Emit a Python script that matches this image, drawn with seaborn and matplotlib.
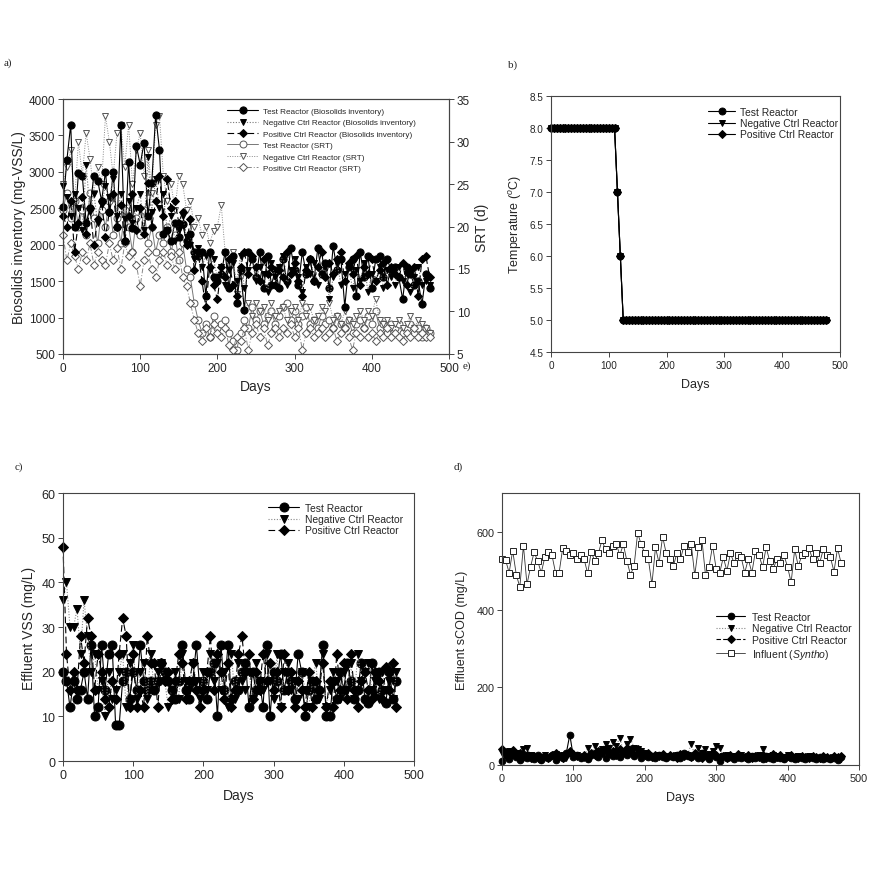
import matplotlib
matplotlib.use("Agg")
import matplotlib.pyplot as plt
import seaborn as sns

# sampling days (every 5 d)
days = [0, 5, 10, 15, 20, 25, 30, 35, 40, 45,
        50, 55, 60, 65, 70, 75, 80, 85, 90, 95,
        100, 105, 110, 115, 120, 125, 130, 135, 140, 145,
        150, 155, 160, 165, 170, 175, 180, 185, 190, 195,
        200, 205, 210, 215, 220, 225, 230, 235, 240, 245,
        250, 255, 260, 265, 270, 275, 280, 285, 290, 295,
        300, 305, 310, 315, 320, 325, 330, 335, 340, 345,
        350, 355, 360, 365, 370, 375, 380, 385, 390, 395,
        400, 405, 410, 415, 420, 425, 430, 435, 440, 445,
        450, 455, 460, 465, 470, 475]

# a) biosolids inventory (mg-VSS/L)
bio_test = [2520, 3160, 3650, 2250, 2980, 2950, 2300, 2500, 2950, 2880,
            2600, 3000, 2450, 3000, 2250, 3650, 2050, 3140, 2230, 3360,
            3100, 3400, 2400, 2850, 3780, 3300, 2150, 2200, 2050, 2300,
            2100, 2280, 2050, 2150, 1900, 1850, 1900, 1300, 1900, 1550,
            1500, 1600, 1900, 1400, 1850, 1200, 1650, 1100, 1900, 1800,
            1550, 1900, 1400, 1850, 1450, 1650, 1400, 1800, 1500, 1950,
            1650, 1450, 1900, 1600, 1800, 1500, 1950, 1600, 1750, 1400,
            1980, 1650, 1800, 1150, 1700, 1800, 1300, 1900, 1550, 1850,
            1400, 1800, 1850, 1550, 1800, 1650, 1700, 1550, 1250, 1700,
            1600, 1450, 1500, 1180, 1600, 1400]
bio_neg = [2800, 2650, 2400, 2700, 2500, 2200, 3100, 2450, 2700, 2300,
           2550, 2800, 2650, 2900, 2400, 2700, 2350, 2600, 2300, 2500,
           2700, 2200, 3200, 2450, 2900, 2500, 2700, 2200, 2400, 2050,
           2200, 2400, 2100, 2000, 1800, 1950, 1700, 1850, 1650, 1800,
           1550, 1700, 1450, 1650, 1750, 1500, 1850, 1400, 1650, 1800,
           1500, 1700, 1600, 1350, 1750, 1550, 1700, 1850, 1450, 1650,
           1800, 1550, 1350, 1700, 1600, 1750, 1450, 1600, 1700, 1250,
           1550, 1750, 1450, 1600, 1700, 1400, 1650, 1500, 1750, 1350,
           1600, 1500, 1700, 1400, 1650, 1550, 1450, 1700, 1500, 1600,
           1350, 1550, 1700, 1450, 1500, 1450]
bio_pos = [2400, 2250, 2600, 1900, 2300, 2650, 2150, 2500, 2000, 2350,
           2600, 2100, 2450, 2700, 2250, 2550, 2050, 2400, 2700, 2200,
           2500, 2150, 2850, 2250, 2600, 2950, 2400, 2900, 2500, 2600,
           2300, 2450, 2000, 2350, 1650, 1900, 1500, 1150, 1700, 1450,
           1250, 1700, 1550, 1800, 1450, 1300, 1700, 1900, 1600, 1850,
           1700, 1500, 1800, 1600, 1700, 1450, 1650, 1550, 1900, 1600,
           1750, 1500, 1300, 1650, 1800, 1500, 1700, 1900, 1550, 1750,
           1600, 1800, 1900, 1500, 1750, 1600, 1850, 1450, 1700, 1600,
           1800, 1500, 1650, 1750, 1450, 1700, 1600, 1550, 1750, 1450,
           1650, 1700, 1300, 1800, 1850, 1550]

# a) SRT (d)
srt_test = [22, 24, 21, 23, 20, 22, 19, 24, 21, 18,
            22, 20, 23, 19, 21, 18, 22, 20, 17, 21,
            19, 22, 18, 20, 17, 19, 18, 20, 17, 19,
            16, 18, 15, 14, 11, 9, 7.5, 8.5, 7, 9.5,
            8, 8.5, 9, 7.5, 6.5, 5.5, 7.5, 9, 8, 10.5,
            9, 10, 8.5, 9.5, 10, 8.5, 9.5, 10.5, 11, 9,
            10, 8.5, 9.5, 10.5, 8.5, 9, 8, 9.5, 8.5, 9,
            8, 9.5, 8.5, 8, 9, 7.5, 8.5, 9, 8, 9.5,
            8.5, 10, 8, 8.5, 7.5, 8.5, 8, 8.5, 7.5, 8,
            8.5, 7.5, 8, 7, 8, 7.5]
srt_neg = [25, 27, 29, 23, 30, 26, 31, 28, 24, 27,
           25, 33, 30, 26, 31, 32, 27, 32, 25, 29,
           31, 26, 29, 24, 32, 33, 26, 23, 25, 22,
           26, 25, 22, 23, 20, 21, 19, 20, 18, 19.5,
           20, 22.5, 17, 15, 17, 12, 14, 10, 11, 9.5,
           11, 10, 10.5, 9, 11, 9.5, 10, 10.5, 9, 10,
           10.5, 9, 11, 9.5, 10.5, 9, 9.5, 10.5, 10, 11,
           9, 9.5, 8.5, 10, 9, 8.5, 9.5, 10, 9, 10,
           9.5, 11.5, 9, 8.5, 9, 8, 8.5, 9, 8, 8.5,
           9.5, 8, 9, 8.5, 8, 7.5]
srt_pos = [19, 16, 18, 16.5, 15, 17, 16, 18, 15.5, 17,
           16, 15.5, 18, 16, 17.5, 15, 18, 16.5, 17, 15.5,
           13, 16, 17, 15, 14, 16, 17, 15.5, 16.5, 15,
           17, 14, 13, 11, 9, 7.5, 6.5, 8, 7, 8.5,
           7.5, 7, 8, 6, 5.5, 7, 6.5, 8, 5.5, 7.5,
           8.5, 7, 8, 6, 7.5, 8, 7, 8, 7.5, 8.5,
           7, 8, 5.5, 7.5, 8, 7, 7.5, 8, 7, 7.5,
           8, 6.5, 7.5, 8, 7, 5.5, 7.5, 7, 8, 7,
           7.5, 6.5, 7.5, 7, 8, 7, 7.5, 7, 6.5, 7.5,
           7, 8, 7, 7.5, 7, 7]

# b) temperature (degC), same for all three reactors
temp = [8.0, 8.0, 8.0, 8.0, 8.0, 8.0, 8.0, 8.0, 8.0, 8.0,
        8.0, 8.0, 8.0, 8.0, 8.0, 8.0, 8.0, 8.0, 8.0, 8.0,
        8.0, 8.0, 8.0, 7.0, 6.0, 5.0, 5.0, 5.0, 5.0, 5.0,
        5.0, 5.0, 5.0, 5.0, 5.0, 5.0, 5.0, 5.0, 5.0, 5.0,
        5.0, 5.0, 5.0, 5.0, 5.0, 5.0, 5.0, 5.0, 5.0, 5.0,
        5.0, 5.0, 5.0, 5.0, 5.0, 5.0, 5.0, 5.0, 5.0, 5.0,
        5.0, 5.0, 5.0, 5.0, 5.0, 5.0, 5.0, 5.0, 5.0, 5.0,
        5.0, 5.0, 5.0, 5.0, 5.0, 5.0, 5.0, 5.0, 5.0, 5.0,
        5.0, 5.0, 5.0, 5.0, 5.0, 5.0, 5.0, 5.0, 5.0, 5.0,
        5.0, 5.0, 5.0, 5.0, 5.0, 5.0]

# c) effluent VSS (mg/L)
vss_test = [20, 18, 12, 18, 14, 16, 20, 14, 26, 10,
            12, 26, 16, 24, 26, 8, 8, 18, 20, 14,
            20, 16, 26, 18, 16, 18, 16, 18, 22, 20,
            18, 16, 14, 18, 26, 16, 14, 18, 26, 16,
            18, 14, 20, 22, 10, 26, 16, 26, 14, 18,
            16, 20, 22, 12, 20, 16, 18, 12, 26, 10,
            20, 18, 24, 16, 20, 18, 14, 24, 20, 10,
            16, 18, 14, 16, 26, 10, 10, 18, 14, 20,
            16, 22, 18, 14, 16, 22, 14, 13, 22, 15,
            20, 16, 13, 20, 14, 18]
vss_neg = [36, 40, 30, 30, 34, 24, 36, 28, 20, 24,
           16, 18, 10, 20, 14, 16, 20, 24, 12, 22,
           26, 14, 20, 22, 14, 24, 16, 20, 22, 18,
           12, 16, 20, 14, 24, 18, 16, 22, 18, 14,
           20, 16, 24, 18, 22, 16, 20, 12, 24, 14,
           22, 18, 16, 20, 14, 22, 18, 16, 24, 18,
           14, 24, 12, 20, 22, 16, 18, 14, 20, 16,
           12, 18, 22, 14, 24, 12, 16, 20, 18, 14,
           20, 16, 22, 14, 24, 18, 20, 22, 16, 18,
           14, 20, 16, 18, 14, 20]
vss_pos = [48, 24, 16, 20, 16, 28, 22, 32, 28, 16,
           24, 20, 14, 12, 18, 14, 24, 32, 28, 12,
           24, 12, 16, 12, 28, 22, 22, 12, 22, 18,
           20, 14, 18, 24, 22, 14, 18, 22, 16, 12,
           16, 20, 28, 16, 24, 20, 14, 22, 12, 16,
           24, 28, 20, 24, 14, 20, 16, 24, 18, 22,
           16, 20, 12, 24, 16, 20, 12, 18, 16, 12,
           20, 12, 18, 16, 22, 12, 18, 12, 24, 16,
           22, 14, 24, 16, 12, 18, 20, 16, 14, 20,
           18, 14, 21, 16, 22, 12]

# d) effluent / influent sCOD (mg/L)
cod_test = [10, 25, 15, 30, 20, 12, 28, 18, 22, 15,
            25, 12, 20, 18, 25, 14, 22, 18, 30, 78,
            20, 25, 18, 22, 15, 25, 30, 20, 35, 18,
            28, 22, 35, 20, 30, 25, 40, 22, 30, 18,
            25, 20, 22, 18, 25, 20, 18, 22, 20, 25,
            18, 30, 22, 20, 25, 18, 30, 22, 15, 25,
            20, 10, 22, 18, 20, 15, 22, 18, 20, 15,
            22, 18, 20, 15, 22, 18, 15, 20, 18, 15,
            22, 18, 15, 20, 18, 15, 20, 18, 15, 20,
            16, 18, 15, 18, 14, 20]
cod_neg = [30, 20, 35, 25, 30, 18, 40, 45, 25, 20,
           15, 20, 25, 18, 22, 28, 20, 25, 18, 30,
           22, 25, 20, 18, 45, 28, 50, 35, 40, 55,
           45, 60, 50, 70, 35, 55, 68, 45, 40, 35,
           30, 25, 22, 20, 25, 22, 18, 22, 20, 25,
           22, 28, 25, 55, 25, 45, 30, 40, 28, 35,
           50, 45, 22, 25, 20, 22, 18, 25, 20, 18,
           22, 20, 25, 40, 22, 20, 25, 22, 18, 20,
           25, 20, 18, 22, 20, 18, 22, 20, 18, 15,
           20, 18, 15, 20, 18, 15]
cod_pos = [40, 30, 20, 38, 25, 30, 20, 25, 18, 22,
           20, 15, 22, 18, 25, 30, 22, 18, 25, 35,
           28, 22, 20, 25, 18, 30, 25, 35, 30, 40,
           30, 35, 25, 40, 30, 45, 35, 25, 40, 30,
           25, 30, 20, 25, 22, 28, 20, 25, 22, 18,
           28, 22, 25, 20, 30, 22, 18, 25, 20, 30,
           25, 20, 22, 18, 25, 20, 28, 22, 20, 25,
           18, 22, 20, 25, 18, 22, 28, 20, 25, 18,
           22, 25, 20, 18, 22, 20, 18, 22, 20, 18,
           22, 20, 18, 22, 20, 22]
cod_inf = [530, 528, 495, 552, 490, 458, 565, 465, 510, 548,
           525, 495, 535, 548, 540, 495, 495, 558, 550, 540,
           545, 530, 540, 530, 493, 548, 525, 545, 578, 555,
           545, 565, 570, 540, 568, 525, 490, 512, 597, 568,
           545, 530, 465, 560, 520, 588, 545, 530, 512, 545,
           530, 565, 548, 570, 488, 560, 580, 490, 510, 565,
           505, 495, 535, 500, 545, 520, 540, 535, 495, 530,
           495, 550, 540, 510, 560, 525, 505, 530, 520, 540,
           510, 470, 555, 512, 540, 545, 558, 530, 545, 520,
           555, 540, 535, 498, 558, 520]

sns.set_theme(style="ticks")
plt.rcParams['font.family'] = ['Liberation Sans', 'DejaVu Sans']
plt.rcParams['mathtext.fontset'] = 'custom'
plt.rcParams['mathtext.it'] = 'Liberation Sans:italic'
plt.rcParams['mathtext.rm'] = 'Liberation Sans'

SPINE = '#444444'
DOT = (0, (1, 1.5))
DASH = (0, (6, 3))
DASHDOT = (0, (5, 2, 1, 2))


def draw(ax, y, label, marker, ms, ls='-', lc='black', fc='black', ec='black', lw=0.8):
    sns.lineplot(x=days, y=y, ax=ax, label=label, color=lc, linestyle=ls, linewidth=lw,
                 marker=marker, markersize=ms, markerfacecolor=fc, markeredgecolor=ec,
                 markeredgewidth=0.7, clip_on=False)


def style_axes(ax, tick_fs):
    for s in ax.spines.values():
        s.set_color(SPINE)
        s.set_linewidth(0.8)
    ax.tick_params(direction='out', length=3.5, width=0.7, color=SPINE,
                   labelsize=tick_fs, pad=2)


fig = plt.figure(figsize=(8.7, 8.7), dpi=100)

# ---------- a) biosolids inventory + SRT ----------
axa = fig.add_axes([0.0724, 0.592, 0.4437, 0.293])
axa2 = axa.twinx()
axa.set_zorder(axa2.get_zorder() + 1)
axa.patch.set_visible(False)

draw(axa2, srt_test, 'Test Reactor (SRT)', 'o', 5, '-', '#777777', 'white', '#555555', 0.7)
draw(axa2, srt_neg, 'Negative Ctrl Reactor (SRT)', 'v', 5, DOT, '#888888', 'white', '#555555', 0.7)
draw(axa2, srt_pos, 'Positive Ctrl Reactor (SRT)', 'D', 4.2, DASHDOT, '#888888', 'white', '#555555', 0.7)
draw(axa, bio_test, 'Test Reactor (Biosolids inventory)', 'o', 5.2)
draw(axa, bio_neg, 'Negative Ctrl Reactor (Biosolids inventory)', 'v', 4.5, DOT, '#777777')
draw(axa, bio_pos, 'Positive Ctrl Reactor (Biosolids inventory)', 'D', 4.2, DASH)

axa.set_xlim(0, 500)
axa.set_ylim(500, 4000)
axa.set_xticks([0, 100, 200, 300, 400, 500])
axa.set_yticks([500, 1000, 1500, 2000, 2500, 3000, 3500, 4000])
axa2.set_ylim(5, 35)
axa2.set_yticks([5, 10, 15, 20, 25, 30, 35])
axa.set_xlabel('Days', fontsize=10, labelpad=4)
axa.set_ylabel('Biosolids inventory (mg-VSS/L)', fontsize=10, labelpad=2)
axa2.set_ylabel('SRT (d)', fontsize=10, labelpad=4)
style_axes(axa, 8.5)
style_axes(axa2, 8.5)
if axa2.get_legend() is not None:
    axa2.get_legend().remove()
h1, l1 = axa.get_legend_handles_labels()
h2, l2 = axa2.get_legend_handles_labels()
axa.legend(h1 + h2, l1 + l2, loc='upper left', bbox_to_anchor=(0.41, 0.99), frameon=False,
           fontsize=5.9, labelspacing=0.45, handlelength=3.8, handletextpad=0.6, borderpad=0.2)

# ---------- b) temperature ----------
axb = fig.add_axes([0.6333, 0.5943, 0.3322, 0.2943])
draw(axb, temp, 'Test Reactor', 'o', 5)
draw(axb, temp, 'Negative Ctrl Reactor', 'v', 4.5)
draw(axb, temp, 'Positive Ctrl Reactor', 'D', 4.2)
axb.set_xlim(0, 500)
axb.set_ylim(4.5, 8.5)
axb.set_xticks([0, 100, 200, 300, 400, 500])
axb.set_yticks([4.5, 5.0, 5.5, 6.0, 6.5, 7.0, 7.5, 8.0, 8.5])
axb.set_yticklabels(['4.5', '5.0', '5.5', '6.0', '6.5', '7.0', '7.5', '8.0', '8.5'])
axb.set_xlabel('Days', fontsize=9, labelpad=6)
axb.set_ylabel('Temperature ($^{o}$C)', fontsize=9, labelpad=4)
style_axes(axb, 7.2)
axb.legend(loc='upper left', bbox_to_anchor=(0.52, 0.985), frameon=False, fontsize=7.4,
           labelspacing=0.12, handlelength=2.6, handletextpad=0.5, borderpad=0.2)

# ---------- c) effluent VSS ----------
axc = fig.add_axes([0.0724, 0.1241, 0.4034, 0.308])
draw(axc, vss_test, 'Test Reactor', 'o', 6.5)
draw(axc, vss_neg, 'Negative Ctrl Reactor', 'v', 5.5, DOT, '#888888')
draw(axc, vss_pos, 'Positive Ctrl Reactor', 'D', 5, DASH)
axc.set_xlim(0, 500)
axc.set_ylim(0, 60)
axc.set_xticks([0, 100, 200, 300, 400, 500])
axc.set_yticks([0, 10, 20, 30, 40, 50, 60])
axc.set_xlabel('Days', fontsize=10, labelpad=5)
axc.set_ylabel('Effluent VSS (mg/L)', fontsize=10, labelpad=4)
style_axes(axc, 9)
axc.legend(loc='upper left', bbox_to_anchor=(0.565, 0.99), frameon=False, fontsize=7.4,
           labelspacing=0.12, handlelength=3.0, handletextpad=0.6, borderpad=0.2)

# ---------- d) sCOD ----------
axd = fig.add_axes([0.577, 0.1195, 0.4103, 0.3126])
draw(axd, cod_test, 'Test Reactor', 'o', 4.8)
draw(axd, cod_neg, 'Negative Ctrl Reactor', 'v', 4.8, DOT, '#888888')
draw(axd, cod_pos, 'Positive Ctrl Reactor', 'D', 4.3, (0, (4, 2)))
draw(axd, cod_inf, 'Influent ($\\it{Syntho}$)', 's', 4.5, '-', '#333333', 'white', '#222222', 0.6)
axd.set_xlim(0, 500)
axd.set_ylim(0, 700)
axd.set_xticks([0, 100, 200, 300, 400, 500])
axd.set_yticks([0, 200, 400, 600])
axd.set_xlabel('Days', fontsize=9, labelpad=6)
axd.set_ylabel('Effluent sCOD (mg/L)', fontsize=9, labelpad=6)
style_axes(axd, 7.8)
axd.legend(loc='upper left', bbox_to_anchor=(0.58, 0.59), frameon=False, fontsize=7.5,
           labelspacing=0.15, handlelength=2.8, handletextpad=0.6, borderpad=0.2)

# panel letters
serif = ['Liberation Serif', 'DejaVu Serif']
fig.text(0.004, 0.927, 'a)', fontsize=8, family=serif, va='center')
fig.text(0.584, 0.925, 'b)', fontsize=8, family=serif, va='center')
fig.text(0.017, 0.463, 'c)', fontsize=8, family=serif, va='center')
fig.text(0.521, 0.463, 'd)', fontsize=8, family=serif, va='center')
fig.text(0.532, 0.579, 'e)', fontsize=8, family=serif, va='center')

fig.savefig('out.png', dpi=100, facecolor='white')
